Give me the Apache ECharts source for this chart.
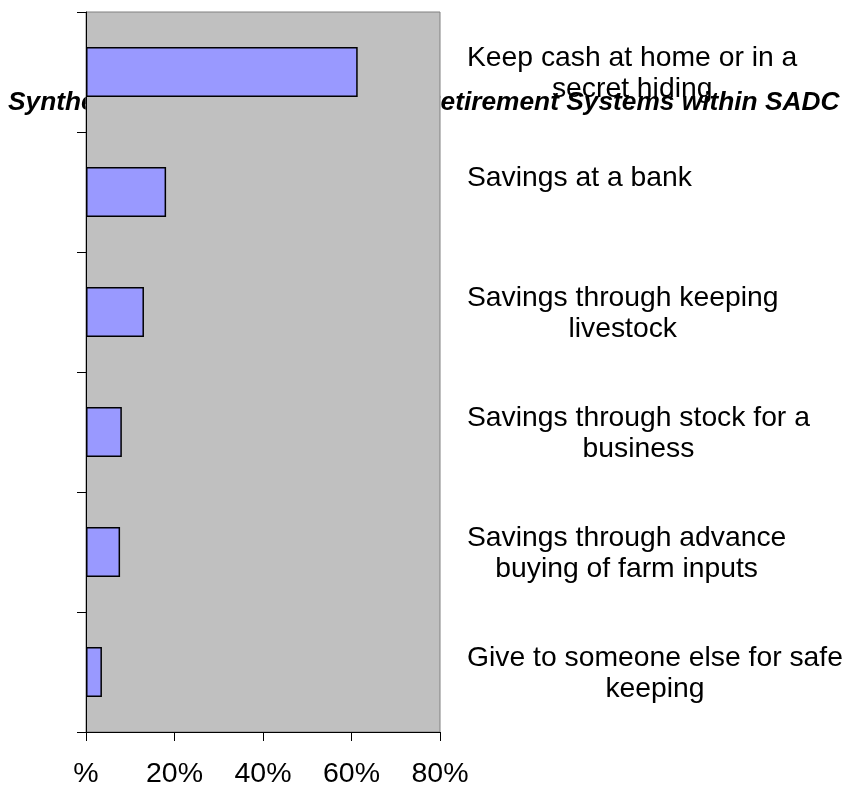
<!DOCTYPE html>
<html>
<head>
<meta charset="utf-8">
<script src="https://cdn.jsdelivr.net/npm/echarts@6/dist/echarts.min.js"></script>
<style>html,body{margin:0;padding:0;background:#fff}#c{width:846px;height:785px}</style>
</head>
<body>
<div id="c"></div>
<script>
var titleText = 'Synthesis of Social Security and Retirement Systems within SADC';
var categories = [
  'Keep cash at home or in a\nsecret hiding',
  'Savings at a bank',
  'Savings through keeping\nlivestock',
  'Savings through stock for a\nbusiness',
  'Savings through advance\nbuying of farm inputs',
  'Give to someone else for safe\nkeeping'
];
var values = [61.4, 18.1, 13.1, 8.1, 7.7, 3.6];
var xTicks = [0, 20, 40, 60, 80];

var chart = echarts.init(document.getElementById('c'), null, {renderer: 'canvas'});
var font = 'Liberation Sans, Arial, sans-serif';
chart.setOption({
  animation: false,
  backgroundColor: '#ffffff',
  title: {
    text: titleText,
    left: 3,
    top: 85,
    z: -1,
    textStyle: {fontFamily: font, fontSize: 26.3, fontWeight: 'bold', fontStyle: 'italic', color: '#000'}
  },
  grid: {
    left: 86, right: 406, top: 12, bottom: 53,
    containLabel: false, outerBoundsMode: 'none',
    show: true, backgroundColor: '#c0c0c0', borderColor: '#808080', borderWidth: 1
  },
  xAxis: {
    type: 'value', min: xTicks[0], max: xTicks[xTicks.length - 1], interval: 20,
    axisLine: {show: true, lineStyle: {color: '#000', width: 1}},
    axisTick: {show: true, length: 9, lineStyle: {color: '#000'}},
    splitLine: {show: false},
    axisLabel: {
      margin: 28, color: '#000', fontFamily: font, fontSize: 28.5,
      formatter: function (v) { return v === 0 ? '%' : v + '%'; }
    }
  },
  yAxis: [{
    type: 'category', data: categories, inverse: true, position: 'left',
    axisLine: {show: true, lineStyle: {color: '#000', width: 1}},
    axisTick: {show: true, length: 9, lineStyle: {color: '#000'}},
    axisLabel: {show: false}
  }, {
    type: 'category', data: categories, inverse: true, position: 'right',
    axisLine: {show: false}, axisTick: {show: false},
    axisLabel: {
      margin: 27, align: 'left', verticalAlign: 'middle', padding: [4, 0, 0, 0],
      formatter: function (v) {
        var lines = v.split('\n');
        if (lines.length === 1) lines.push(' ');
        return lines.map(function (l) { return '{c|' + l + '}'; }).join('\n');
      },
      rich: {c: {align: 'center', fontFamily: font, fontSize: 28.3, lineHeight: 31, color: '#000'}}
    }
  }],
  series: [{
    type: 'bar', data: values, barWidth: 50, yAxisIndex: 0,
    itemStyle: {color: '#9999ff', borderColor: '#000', borderWidth: 1.5}
  }]
});
</script>
</body>
</html>
